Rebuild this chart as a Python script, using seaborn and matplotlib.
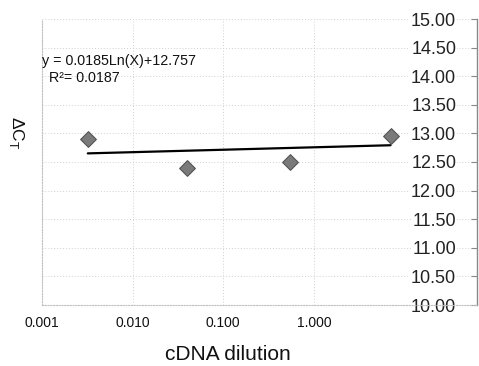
import numpy as np
import pandas as pd
import seaborn as sns
import matplotlib.pyplot as plt

sns.set_theme(style="white")
plt.rcParams['font.family'] = ['Liberation Sans', 'DejaVu Sans']

# values
dilution = [0.0032, 0.040, 0.55, 7.0]
delta_ct = [12.91, 12.40, 12.50, 12.95]
# trendline as printed on the chart
SLOPE = 0.0185
INTERCEPT = 12.757
R2 = 0.0187
x_ticks = [0.001, 0.01, 0.1, 1.0]
x_tick_labels = ["0.001", "0.010", "0.100", "1.000"]
y_ticks = [10.0, 10.5, 11.0, 11.5, 12.0, 12.5, 13.0, 13.5, 14.0, 14.5, 15.0]

df = pd.DataFrame({"dilution": dilution, "dct": delta_ct})
x_fit = np.geomspace(min(dilution), max(dilution), 50)
fit = pd.DataFrame({"dilution": x_fit, "dct": INTERCEPT + SLOPE * np.log(x_fit)})

fig = plt.figure(figsize=(4.79, 3.66), dpi=100)
ax = fig.add_axes([42 / 479, 61 / 366, 435 / 479, 286 / 366])

sns.lineplot(data=fit, x="dilution", y="dct", color="black", linewidth=1.6, ax=ax, zorder=3)
sns.scatterplot(data=df, x="dilution", y="dct", marker="D", s=64, color="#7a7a7a",
                edgecolor="#555555", linewidth=0.8, ax=ax, zorder=4)

ax.set_xscale("log")
ax.set_xlim(0.00105, 63)
ax.set_ylim(10, 15)
ax.set_xticks(x_ticks)
ax.set_xticklabels(x_tick_labels)
ax.xaxis.set_minor_locator(plt.NullLocator())
ax.set_yticks(y_ticks)
ax.set_yticklabels([f"{v:.2f}" for v in y_ticks])

ax.yaxis.tick_right()
ax.tick_params(axis="y", direction="in", length=4, width=0.8, color="#888888",
               pad=-15, labelsize=13, labelcolor="#222222")
for lbl in ax.get_yticklabels():
    lbl.set_horizontalalignment("right")
    lbl.set_bbox(dict(facecolor="white", edgecolor="none", pad=0.5))
ax.tick_params(axis="x", length=0, pad=8, labelsize=10, labelcolor="#111111")

ax.grid(True, color="#d0d0d0", linestyle=(0, (1, 2)), linewidth=0.7)
ax.set_axisbelow(True)
for side in ["left", "bottom"]:
    ax.spines[side].set_color("#c0c0c0")
    ax.spines[side].set_linestyle((0, (1, 1.5)))
    ax.spines[side].set_linewidth(0.8)
ax.spines["top"].set_visible(False)
ax.spines["right"].set_color("#888888")
ax.spines["right"].set_linewidth(1.0)

ax.set_xlabel("")
ax.set_ylabel("")
fig.text(228 / 479, 1 - 355 / 366, "cDNA dilution", fontsize=15, ha="center", va="center",
         color="#111111")
fig.text(16 / 479, 1 - 133 / 366, r"ΔC$_\mathregular{T}$", fontsize=12.5, rotation=270,
         ha="center", va="center", color="#111111")

ax.text(0.0, 0.853, f"y = {SLOPE}Ln(X)+{INTERCEPT}", transform=ax.transAxes,
        fontsize=10.3, ha="left", va="center", color="#111111")
ax.text(0.016, 0.794, f"R²= {R2}", transform=ax.transAxes,
        fontsize=10.3, ha="left", va="center", color="#111111")

fig.savefig("out.png", dpi=100)
